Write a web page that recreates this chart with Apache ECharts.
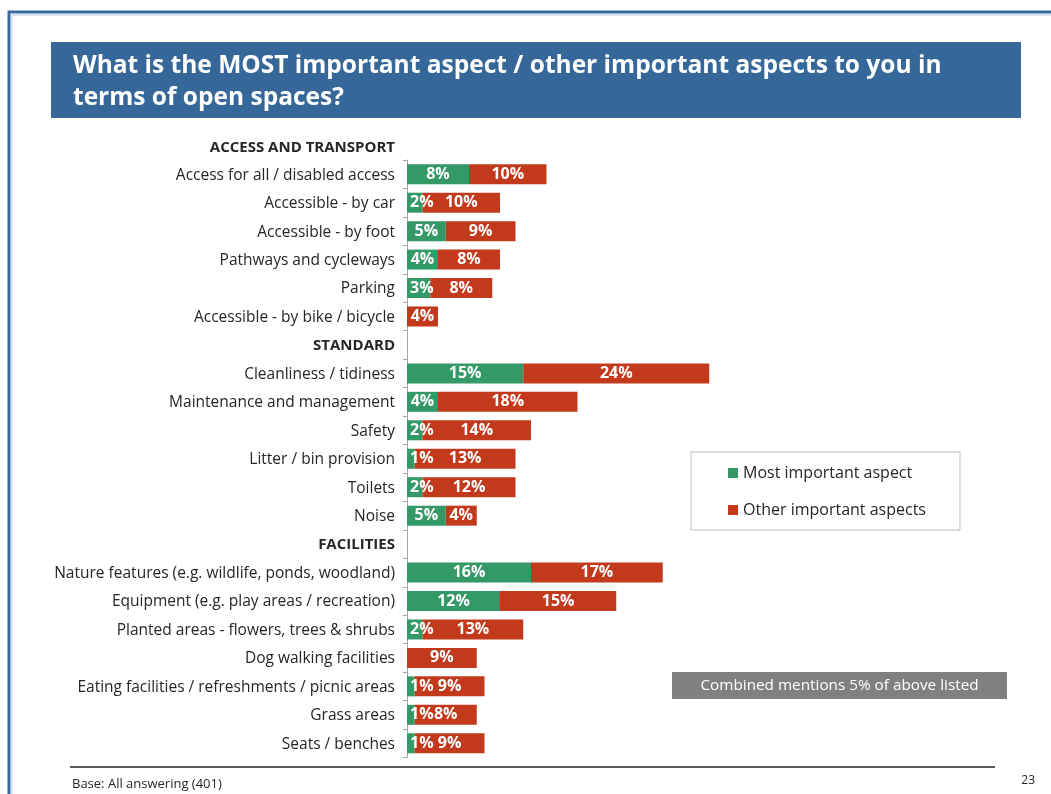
<!DOCTYPE html>
<html>
<head>
<meta charset="utf-8">
<script src="https://cdn.jsdelivr.net/npm/echarts@6/dist/echarts.min.js"></script>
<style>
html,body{margin:0;padding:0;background:#fff;}
#chart{width:1051px;height:794px;}
</style>
</head>
<body>
<div id="chart"></div>
<script>
var titleLines = ['What is the MOST important aspect / other important aspects to you in', 'terms of open spaces?'];
var firstHeader = 'ACCESS AND TRANSPORT';
var sectionHeaders = ['STANDARD', 'FACILITIES'];
var categories = [
  'Access for all / disabled access',
  'Accessible - by car',
  'Accessible - by foot',
  'Pathways and cycleways',
  'Parking',
  'Accessible - by bike / bicycle',
  'STANDARD',
  'Cleanliness / tidiness',
  'Maintenance and management',
  'Safety',
  'Litter / bin provision',
  'Toilets',
  'Noise',
  'FACILITIES',
  'Nature features (e.g. wildlife, ponds, woodland)',
  'Equipment (e.g. play areas / recreation)',
  'Planted areas - flowers, trees & shrubs',
  'Dog walking facilities',
  'Eating facilities / refreshments / picnic areas',
  'Grass areas',
  'Seats / benches'
];
var mostImportant = [8, 2, 5, 4, 3, 0, null, 15, 4, 2, 1, 2, 5, null, 16, 12, 2, 0, 1, 1, 1];
var otherImportant = [10, 10, 9, 8, 8, 4, null, 24, 18, 14, 13, 12, 4, null, 17, 15, 13, 9, 9, 8, 9];
var seriesNames = ['Most important aspect', 'Other important aspects'];
var noteText = 'Combined mentions 5% of above listed';
var baseText = 'Base: All answering (401)';
var pageNumber = '23';

var FONT = '"Open Sans", Lato, sans-serif';
var GREEN = '#339966';
var RED = '#C3391C';
var gridLeft = 407, gridTop = 160, gridHeight = 597.5, gridWidth = 310, xMax = 40;
var pxPerUnit = gridWidth / xMax;
var rowH = gridHeight / categories.length;

function buildData(arr) {
  return arr.map(function (v) {
    if (v === null) return '-';
    var small = v * pxPerUnit < 26;
    return small ? {value: v, label: {position: 'insideLeft', distance: 3}} : v;
  });
}

var chart = echarts.init(document.getElementById('chart'), null, {renderer: 'canvas'});
chart.setOption({
  backgroundColor: '#ffffff',
  animation: false,
  textStyle: {fontFamily: FONT},
  grid: {left: gridLeft, top: gridTop, width: gridWidth, height: gridHeight, containLabel: false},
  xAxis: {type: 'value', min: 0, max: xMax, show: false},
  yAxis: {
    type: 'category',
    inverse: true,
    data: categories,
    axisLine: {show: true, lineStyle: {color: '#a6a6a6', width: 1}},
    axisTick: {show: true, length: 4, lineStyle: {color: '#a6a6a6'}},
    axisLabel: {
      margin: 12,
      fontSize: 15.5,
      color: '#262626',
      fontFamily: FONT,
      padding: [2, 0, 0, 0],
      formatter: function (v) {
        return sectionHeaders.indexOf(v) >= 0 ? '{b|' + v + '}' : v;
      },
      rich: {b: {fontWeight: 'bold', fontSize: 15, color: '#262626', fontFamily: FONT}}
    }
  },
  legend: {
    orient: 'vertical',
    left: 691,
    top: 452,
    data: seriesNames,
    icon: 'rect',
    itemWidth: 10,
    itemHeight: 10,
    itemGap: 21,
    padding: [13, 34, 12, 37],
    borderColor: '#bfbfbf',
    borderWidth: 1,
    selectedMode: false,
    textStyle: {fontSize: 16, color: '#262626', fontFamily: FONT}
  },
  series: [
    {
      name: seriesNames[0], type: 'bar', stack: 'total', barWidth: 20,
      itemStyle: {color: GREEN},
      label: {show: true, position: 'inside', color: '#fff', fontWeight: 'bold', fontSize: 16, fontFamily: FONT,
        formatter: function (p) { return p.value ? p.value + '%' : ''; }},
      data: buildData(mostImportant)
    },
    {
      name: seriesNames[1], type: 'bar', stack: 'total', barWidth: 20,
      itemStyle: {color: RED},
      label: {show: true, position: 'inside', color: '#fff', fontWeight: 'bold', fontSize: 16, fontFamily: FONT,
        formatter: function (p) { return p.value ? p.value + '%' : ''; }},
      data: buildData(otherImportant)
    }
  ],
  graphic: [
    {type: 'rect', shape: {x: 9, y: 12, width: 1100, height: 900}, style: {fill: 'none', stroke: '#3A6AA0', lineWidth: 3}, silent: true},
    {type: 'rect', shape: {x: 12, y: 15, width: 1100, height: 900}, style: {fill: 'none', stroke: '#B8CCE4', lineWidth: 1}, silent: true},
    {type: 'rect', shape: {x: 51, y: 42, width: 970, height: 76}, style: {fill: '#356799'}, silent: true},
    {type: 'text', left: 73, top: 50, style: {text: titleLines.join('\n'), fill: '#ffffff', font: 'bold 24.5px ' + FONT, lineHeight: 32}, silent: true},
    {type: 'text', style: {x: gridLeft - 12, y: gridTop - rowH / 2 + 1.5, text: firstHeader, fill: '#262626', font: 'bold 15px ' + FONT, align: 'right', verticalAlign: 'middle'}, silent: true},
    {type: 'rect', shape: {x: 672, y: 672, width: 335, height: 27}, style: {fill: '#808080'}, silent: true},
    {type: 'text', style: {x: 839.5, y: 685.5, text: noteText, fill: '#ffffff', font: '15.3px ' + FONT, align: 'center', verticalAlign: 'middle'}, silent: true},
    {type: 'line', shape: {x1: 70, y1: 767, x2: 995, y2: 767}, style: {stroke: '#595959', lineWidth: 2}, silent: true},
    {type: 'text', style: {x: 72, y: 784, text: baseText, fill: '#262626', font: '13px ' + FONT, verticalAlign: 'middle'}, silent: true},
    {type: 'text', style: {x: 1035, y: 781, text: pageNumber, fill: '#262626', font: '12px ' + FONT, align: 'right', verticalAlign: 'middle'}, silent: true}
  ]
});
</script>
</body>
</html>
